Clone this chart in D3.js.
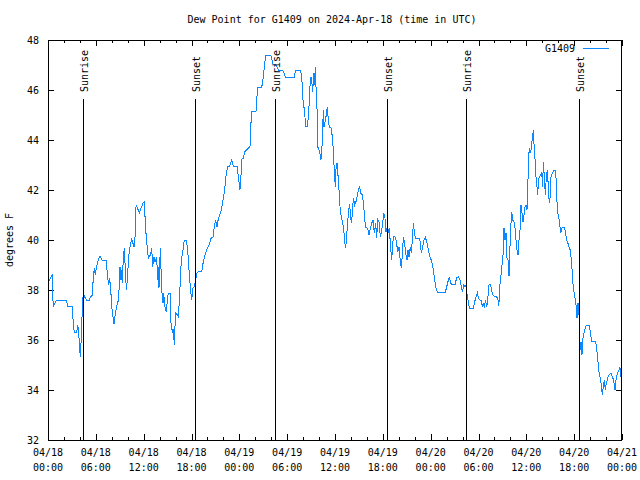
<!DOCTYPE html>
<html><head><meta charset="utf-8">
<script src="https://cdn.jsdelivr.net/npm/d3@7"></script>
<style>
body{margin:0;background:#fff}
svg{display:block}
text{font-family:"DejaVu Sans Mono","Liberation Mono",monospace;font-size:10px;fill:#000}
</style>
</head><body><svg id="c" width="640" height="480"></svg>
<script>
const chartTitle = "Dew Point for G1409 on 2024-Apr-18 (time in UTC)";
const yAxisLabel = "degrees F";
const seriesName = "G1409";
const startUTC = "2024-04-18T00:00:00Z";
const endUTC = "2024-04-21T00:00:00Z";
const yTickValues = [32, 34, 36, 38, 40, 42, 44, 46, 48];
const eventLabels = ["Sunrise", "Sunset", "Sunrise", "Sunset", "Sunrise", "Sunset"];
const eventHours = [4.43, 18.48, 28.5, 42.55, 52.47, 66.65];
// [hours since 04/18 00:00 UTC, dew point °F]
const readings = [
[0,38.29],[0.54,38.6],[0.56,38.0],[0.67,37.33],[0.88,37.47],[1.09,37.6],[2.34,37.6],[2.43,37.33],[3.05,37.33],[3.10,37.07],[3.18,36.6],[3.30,36.3],[3.60,36.3],[3.72,36.6],[3.85,36.4],[3.93,35.73],[4.06,35.33],[4.14,35.87],[4.22,36.5],[4.31,37.33],[4.43,37.87],[4.68,37.67],[4.85,37.6],[5.18,37.6],[5.35,37.73],[5.56,37.8],[5.60,38.13],[5.73,38.6],[5.81,38.87],[5.94,38.6],[6.02,38.8],[6.23,39.13],[6.52,39.36],[6.77,39.2],[7.28,39.2],[7.48,38.53],[7.61,38.2],[7.74,38.47],[7.86,38.07],[7.99,37.33],[8.15,36.93],[8.28,36.64],[8.40,36.93],[8.61,37.33],[8.78,37.53],[8.91,38.0],[9.03,38.93],[9.16,38.4],[9.24,38.8],[9.32,38.27],[9.45,39.33],[9.57,39.67],[9.70,38.8],[9.83,38.0],[9.95,38.4],[10.12,39.33],[10.29,39.73],[10.50,40.03],[10.79,39.73],[10.91,40.07],[11.04,41.33],[11.12,41.37],[11.46,41.07],
[11.67,41.27],[11.92,41.47],[12.08,41.53],[12.17,40.93],[12.33,40.07],[12.46,39.67],[12.59,39.27],[12.84,39.4],[13.01,39.67],[13.13,38.93],[13.30,39.33],[13.42,39.13],[13.63,39.33],[13.76,38.4],[13.84,38.93],[13.92,38.07],[14.09,39.67],[14.26,38.0],[14.43,37.47],[14.51,37.87],[14.68,37.33],[14.84,37.13],[14.97,37.6],[15.09,37.87],[15.35,37.87],[15.43,36.67],[15.60,36.33],[15.72,36.4],[15.85,35.8],[15.93,36.53],[16.01,37.07],[16.22,37.0],[16.35,36.93],[16.47,37.53],[16.60,38.4],[16.72,39.2],[16.89,39.47],[17.10,40.0],[17.35,40.0],[17.52,39.6],[17.69,38.8],[17.85,38.13],[18.02,37.6],[18.19,38.07],[18.36,38.13],[18.52,38.4],[18.69,38.67],[18.86,38.73],[19.28,38.73],[19.48,39.13],[19.69,39.4],[19.90,39.6],[20.20,39.8],[20.45,40.07],[20.70,40.13],[20.86,40.53],[21.03,40.8],[21.20,40.53],[21.37,40.87],[21.62,41.07],[21.79,41.27],[21.95,41.6],[22.12,41.93],[22.24,42.27],[22.37,42.67],[22.54,42.96],[22.79,42.96],[23.04,43.2],[23.21,43.0],
[23.25,42.96],[23.75,42.96],[23.87,42.53],[24.08,42.0],[24.21,42.6],[24.29,43.23],[24.50,43.27],[24.67,43.53],[24.92,43.6],[25.13,43.67],[25.34,43.76],[25.42,44.47],[25.55,45.13],[26.09,45.13],[26.18,45.6],[26.30,46.1],[26.80,46.1],[26.93,46.33],[27.06,46.67],[27.18,47.07],[27.31,47.39],[27.94,47.39],[28.10,47.2],[28.27,47.0],[28.48,47.04],[28.69,46.93],[28.90,46.8],[29.44,46.8],[29.61,46.67],[29.77,46.51],[30.90,46.51],[31.02,46.77],[31.69,46.77],[31.82,46.53],[31.94,45.93],[32.03,45.33],[32.20,45.27],[32.28,44.53],[32.53,44.53],[32.65,44.93],[32.78,45.53],[32.86,46.13],[32.99,46.51],[33.11,46.27],[33.20,45.93],[33.28,46.4],[33.37,46.67],[33.45,46.2],[33.53,46.93],[33.62,46.13],[33.74,45.33],[33.83,43.73],[33.99,43.6],[34.16,43.4],[34.24,43.2],[34.37,43.76],[34.54,45.2],[34.62,44.53],
[34.87,44.93],[35.04,45.33],[35.16,44.8],[35.29,44.53],[35.50,44.47],[35.67,44.13],[35.79,43.6],[35.92,42.67],[36.05,42.13],[36.13,42.87],[36.25,43.07],[36.34,42.73],[36.46,42.27],[36.59,41.47],[36.71,41.07],[36.92,40.73],[37.09,40.47],[37.21,39.93],[37.34,39.67],[37.46,40.13],[37.59,40.73],[37.72,41.2],[37.84,41.44],[37.97,40.87],[38.09,40.67],[38.22,41.4],[38.34,41.67],[38.47,41.4],[38.63,41.53],[38.80,41.8],[38.93,42.0],[39.10,42.13],[39.22,41.87],[39.43,41.8],[39.60,41.4],[39.72,40.8],[39.85,40.51],[40.10,40.47],[40.26,40.2],[40.43,40.47],[40.60,40.67],[40.77,40.8],[40.93,40.27],[41.10,40.67],[41.23,40.07],[41.35,40.83],[41.52,40.73],[41.69,40.13],[41.85,40.33],[42.02,40.8],[42.11,41.07],[42.27,40.87],[42.40,40.33],[42.52,40.47],[42.65,40.27],[42.82,40.47],[42.94,39.87],[43.11,39.2],[43.24,39.87],[43.36,40.13],[43.53,40.13],[43.70,39.93],[43.87,39.53],[44.03,39.73],[44.20,39.13],[44.33,38.87],[44.45,39.47],[44.58,40.13],[44.70,39.93],[44.87,39.47],[45.03,39.2],[45.16,39.6],[45.28,39.33],[45.45,39.73],[45.58,39.47],[45.70,40.0],[45.83,40.69],[45.96,40.27],[46.12,40.07],[46.62,40.07],
[46.83,39.47],[47.0,39.73],[47.17,40.0],[47.33,40.11],[47.50,39.93],[47.67,39.67],[47.83,39.4],[48.0,39.27],[48.17,39.07],[48.34,38.8],[48.50,38.4],[48.67,38.07],[48.84,37.91],[49.84,37.91],[50.01,38.13],[50.17,38.33],[50.34,38.53],[50.51,38.27],[50.63,38.23],[51.09,38.23],[51.26,38.51],[51.51,38.53],[51.68,38.4],[51.84,38.13],[52.01,37.93],[52.14,38.2],[52.30,38.13],[52.43,38.2],[52.55,37.87],[52.68,37.6],[52.85,37.27],[53.35,37.27],[53.52,37.53],[53.69,37.73],[53.85,37.89],[54.02,37.67],[54.19,37.6],[54.36,37.6],[54.48,37.33],[54.61,37.47],[54.73,37.29],[54.86,37.6],[55.03,37.31],[55.18,37.73],[55.32,38.2],[55.44,38.23],[55.61,38.07],[55.78,37.8],[55.94,37.76],[56.28,37.73],[56.44,37.6],[56.53,37.37],[56.61,37.67],[56.69,38.2],[56.82,38.6],[56.95,39.0],[57.07,39.36],[57.20,40.47],[57.32,40.0],[57.45,40.27],[57.58,39.27],[57.70,39.2],[57.83,38.56],[57.95,39.73],[58.04,40.47],[58.16,41.13],[58.29,40.8],[58.46,40.73],
[58.58,40.47],[58.70,40.0],[58.83,39.6],[58.96,39.4],[59.08,40.0],[59.21,40.4],[59.33,41.4],[59.46,41.07],[59.58,40.73],[59.71,41.0],[59.83,41.33],[59.96,41.4],[60.08,41.2],[60.17,41.73],[60.25,43.07],[60.37,43.67],[60.50,43.47],[60.63,43.67],[60.75,44.07],[60.88,44.4],[61.0,43.6],[61.13,43.07],[61.21,42.53],[61.34,42.13],[61.42,41.8],[61.55,42.47],[61.67,42.53],[61.80,42.6],[61.92,42.73],[62.05,42.13],[62.13,43.13],[62.26,42.53],[62.38,41.8],[62.51,42.53],[62.63,42.8],[62.76,42.13],[62.88,41.47],[63.01,41.8],[63.09,42.53],[63.26,42.67],[63.43,42.8],[63.64,42.8],[63.76,42.33],[63.89,41.13],[64.06,40.93],[64.18,40.67],[64.31,40.27],[64.47,40.47],[64.64,40.51],[64.81,40.47],[64.93,40.27],[65.06,40.0],[65.22,39.87],[65.39,39.67],[65.52,39.6],[65.64,39.2],[65.77,38.67],[65.89,38.07],[66.02,37.87],[66.14,37.6],[66.27,37.33],[66.36,36.87],[66.48,37.47],[66.61,37.0],[66.69,36.27],[66.77,35.6],[66.86,35.93],[66.98,35.4],[67.11,36.07],[67.27,36.33],[67.44,36.53],[67.61,36.6],[67.86,36.6],[68.02,36.33],[68.19,35.96],[68.61,35.96],[68.77,35.8],[68.94,35.33],[69.07,34.8],[69.24,34.53],[69.37,34.27],[69.53,33.8],[69.66,34.13],[69.78,34.4],[69.91,34.0],[70.03,34.27],[70.20,34.47],[70.37,34.6],[70.62,34.67],[70.79,34.53],[70.95,34.4],[71.12,34.0],[71.29,34.53],[71.45,34.67],[71.62,34.8],[71.74,34.93],[71.83,34.53],[71.96,34.87]
];

const L = 48, R = 622, T = 40, B = 440;
const lineColor = "#0c88ff";
const t0 = new Date(startUTC), t1 = new Date(endUTC);
const hourToDate = h => new Date(t0.getTime() + h * 3600e3);

const svg = d3.select("#c");
const x = d3.scaleUtc().domain([t0, t1]).range([L, R]);
const y = d3.scaleLinear().domain([32, 48]).range([B, T]);

const minorT = x.ticks(d3.utcHour.every(2));
const majorT = x.ticks(d3.utcHour.every(6));

function ax(gen, tr, vals, size) {
  const g = svg.append("g").attr("transform", tr)
    .call(gen.tickValues(vals).tickSizeInner(size).tickSizeOuter(0).tickFormat(""));
  g.select(".domain").remove();
  g.selectAll("line").attr("stroke", "#000").attr("shape-rendering", "crispEdges");
  return g;
}
ax(d3.axisBottom(x), `translate(0,${B})`, minorT, -3);
ax(d3.axisBottom(x), `translate(0,${B})`, majorT, -6);
ax(d3.axisTop(x), `translate(0,${T})`, minorT, -3);
ax(d3.axisTop(x), `translate(0,${T})`, majorT, -6);
ax(d3.axisLeft(y), `translate(${L},0)`, yTickValues, -6);
ax(d3.axisRight(y), `translate(${R},0)`, yTickValues, -6);

// data line
const line = d3.line().x(d => x(hourToDate(d[0]))).y(d => y(d[1]));
svg.append("path").datum(readings).attr("d", line)
  .attr("fill", "none").attr("stroke", lineColor).attr("stroke-width", 1)
  .attr("shape-rendering", "crispEdges");

// frame
svg.append("rect").attr("x", L + 0.5).attr("y", T + 0.5)
  .attr("width", R - L - 1).attr("height", B - T)
  .attr("fill", "none").attr("stroke", "#000").attr("shape-rendering", "crispEdges");

// y tick labels
svg.append("g").selectAll("text").data(yTickValues).join("text")
  .attr("x", L - 9).attr("y", d => y(d)).attr("dy", "0.35em")
  .attr("text-anchor", "end").text(d => d);

// x tick labels
const fDay = d3.utcFormat("%m/%d"), fHour = d3.utcFormat("%H:%M");
const xl = svg.append("g").selectAll("text").data(majorT).join("text")
  .attr("text-anchor", "middle");
xl.append("tspan").attr("x", d => x(d)).attr("y", 456).text(d => fDay(d));
xl.append("tspan").attr("x", d => x(d)).attr("y", 471).text(d => fHour(d));

// title & axis label
svg.append("text").attr("x", 332).attr("y", 23).attr("text-anchor", "middle").text(chartTitle);
svg.append("text").attr("transform", "translate(13,240) rotate(-90)")
  .attr("text-anchor", "middle").text(yAxisLabel);

// sunrise/sunset markers (drawn over the data)
const ev = svg.append("g").selectAll("g").data(eventHours.map((h, i) => ({ h, label: eventLabels[i] })))
  .join("g");
ev.append("line")
  .attr("x1", d => Math.round(x(hourToDate(d.h))) + 0.5)
  .attr("x2", d => Math.round(x(hourToDate(d.h))) + 0.5)
  .attr("y1", 99).attr("y2", B).attr("stroke", "#000").attr("shape-rendering", "crispEdges");
ev.append("text")
  .attr("transform", d => `translate(${Math.round(x(hourToDate(d.h))) + 4.5},92) rotate(-90)`)
  .attr("text-anchor", "start").text(d => d.label);

// legend
svg.append("text").attr("x", 575).attr("y", 52).attr("text-anchor", "end").text(seriesName);
svg.append("line").attr("x1", 583).attr("x2", 609).attr("y1", 48.5).attr("y2", 48.5)
  .attr("stroke", lineColor).attr("shape-rendering", "crispEdges");
</script>
</body></html>
